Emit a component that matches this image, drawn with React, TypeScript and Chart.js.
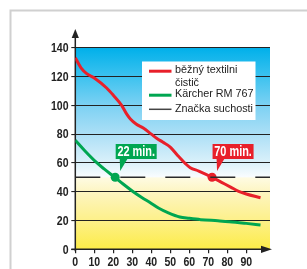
import { useEffect, useRef } from 'react';
import { Chart, registerables } from 'chart.js';
Chart.register(...registerables);

const redX = [0, 3, 6, 10, 16.5, 20, 24.4, 27, 29, 32, 36, 40, 43, 46, 50, 54, 58, 60.5, 65, 72, 77, 82, 86, 90, 97.5];
const redY = [133, 126, 122, 119, 112, 107, 100, 94, 90.5, 87, 84, 80, 77, 74.5, 71, 65, 59.5, 56.7, 54.3, 50, 46.5, 43, 40.3, 38.4, 35.8];
const greenX = [0, 5, 11, 15, 21, 25, 30.5, 35, 39.3, 44, 49, 55, 60, 66, 75, 81, 90, 97.5];
const greenY = [75.8, 68.5, 60.5, 56, 49.8, 45.5, 40, 36, 32.5, 28.5, 25.3, 22.4, 21.5, 20.6, 19.8, 19.2, 18, 16.9];
const xTicks = [0, 10, 20, 30, 40, 50, 60, 70, 80, 90];
const yTicks = [0, 20, 40, 60, 80, 100, 120, 140];
const xMax = 102.5;
const dryLevel = 50;
const markerX = [21, 72];
const markerLabels = ['22 min.', '70 min.'];
const legendLabels = [['běžný textilni', 'čistič'], ['Kärcher RM 767'], ['Značka suchosti']];

const RED = '#e8202a';
const GREEN = '#00a651';
const DARK = '#222222';
const FAMILY = "'Liberation Sans', Arial, sans-serif";

function condensedText(ctx: any, text: string, x: number, y: number, font: string, align: 'left' | 'center' | 'right', sx: number) {
  ctx.save();
  ctx.font = font;
  ctx.textBaseline = 'middle';
  ctx.textAlign = align;
  ctx.translate(x, y);
  ctx.scale(sx, 1);
  ctx.fillText(text, 0, 0);
  ctx.restore();
}

const bgPlugin = {
  id: 'bg',
  beforeDraw(chart: any) {
    const { ctx, chartArea } = chart;
    const { left, top, right, bottom } = chartArea;
    ctx.save();
    ctx.fillStyle = '#ffffff';
    ctx.fillRect(0, 0, chart.width, chart.height);
    ctx.strokeStyle = '#d0d0d0';
    ctx.lineWidth = 2;
    ctx.strokeRect(10.5, 10.5, 400, 400);
    const g = ctx.createLinearGradient(0, top, 0, bottom);
    const s = (v: number) => (140 - v) / 140;
    g.addColorStop(s(140), '#00b0ea');
    g.addColorStop(s(120), '#3cc2ef');
    g.addColorStop(s(100), '#7cd1f3');
    g.addColorStop(s(80), '#acdff6');
    g.addColorStop(s(60), '#dbf1fa');
    g.addColorStop(s(50.5), '#f8fcfe');
    g.addColorStop(s(49.5), '#fefbe2');
    g.addColorStop(s(40), '#fdf5c2');
    g.addColorStop(s(20), '#fdf089');
    g.addColorStop(s(0), '#fcec48');
    ctx.fillStyle = g;
    ctx.fillRect(left, top, right - left, bottom - top);
    ctx.restore();
  },
  beforeDatasetsDraw(chart: any) {
    const { ctx } = chart;
    const x = chart.scales.x;
    const y = chart.scales.y;
    const x0 = x.getPixelForValue(0);
    const y0 = y.getPixelForValue(0);
    ctx.save();
    ctx.strokeStyle = DARK;
    ctx.fillStyle = DARK;
    ctx.lineWidth = 1.5;
    ctx.beginPath();
    ctx.moveTo(x0, y0 + 2);
    ctx.lineTo(x0, 34);
    ctx.moveTo(x0 - 4, y0);
    ctx.lineTo(265, y0);
    ctx.stroke();
    ctx.beginPath();
    ctx.moveTo(x0, 29);
    ctx.lineTo(x0 - 3.6, 38);
    ctx.lineTo(x0 + 3.6, 38);
    ctx.closePath();
    ctx.fill();
    ctx.beginPath();
    ctx.moveTo(272, y0);
    ctx.lineTo(261, y0 - 3.6);
    ctx.lineTo(261, y0 + 3.6);
    ctx.closePath();
    ctx.fill();
    // tick labels
    const tickFont = `bold 13.5px ${FAMILY}`;
    y.ticks.forEach((t: any) => {
      condensedText(ctx, String(t.value), 68.5, y.getPixelForValue(t.value) + 0.5, tickFont, 'right', 0.78);
    });
    x.ticks.forEach((t: any) => {
      condensedText(ctx, String(t.value), x.getPixelForValue(t.value), 262, tickFont, 'center', 0.78);
    });
    ctx.restore();
  },
  afterDatasetsDraw(chart: any) {
    const { ctx } = chart;
    const x = chart.scales.x;
    const y = chart.scales.y;
    ctx.save();
    // legend
    ctx.fillStyle = '#ffffff';
    ctx.fillRect(142, 61.5, 113.5, 58.5);
    const rows = [
      { color: RED, w: 3, y: 71.2, lines: legendLabels[0] },
      { color: GREEN, w: 3, y: 95.2, lines: legendLabels[1] },
      { color: '#444444', w: 1.5, y: 109.3, lines: legendLabels[2] },
    ];
    ctx.fillStyle = '#222222';
    rows.forEach((r) => {
      ctx.strokeStyle = r.color;
      ctx.lineWidth = r.w;
      ctx.beginPath();
      ctx.moveTo(149, r.y);
      ctx.lineTo(171.5, r.y);
      ctx.stroke();
      r.lines.forEach((t, i) => condensedText(ctx, t, 175, r.y - 0.7 + i * 12.5, `10.8px ${FAMILY}`, 'left', 1));
    });
    // marker labels
    const colors = [GREEN, RED];
    markerX.forEach((mx, i) => {
      const px = x.getPixelForValue(mx);
      const py = y.getPixelForValue(dryLevel);
      const bl = px + 0.5;
      const bt = py - 33.3;
      ctx.fillStyle = colors[i];
      ctx.fillRect(bl, bt, 41, 15);
      ctx.beginPath();
      ctx.moveTo(bl + 4, bt + 14.5);
      ctx.lineTo(bl + 12, bt + 14.5);
      ctx.lineTo(bl + 4.5, bt + 27);
      ctx.closePath();
      ctx.fill();
      ctx.fillStyle = '#ffffff';
      condensedText(ctx, markerLabels[i], bl + 20.5, bt + 8, `bold 14px ${FAMILY}`, 'center', 0.78);
    });
    ctx.restore();
  },
};

export default function App() {
  const ref = useRef<HTMLCanvasElement>(null);
  useEffect(() => {
    const canvas = ref.current!;
    const chart = new Chart(canvas, {
      type: 'scatter',
      data: {
        datasets: [
          {
            label: 'dry',
            data: [{ x: 0, y: dryLevel }, { x: xMax, y: dryLevel }],
            showLine: true,
            borderColor: '#2a2a2a',
            borderWidth: 1.4,
            borderDash: [25, 20],
            pointRadius: 0,
          },
          {
            label: legendLabels[0].join(' '),
            data: redX.map((v, i) => ({ x: v, y: redY[i] })),
            showLine: true,
            borderColor: RED,
            borderWidth: 3,
            pointRadius: 0,
            cubicInterpolationMode: 'monotone',
          },
          {
            label: legendLabels[1][0],
            data: greenX.map((v, i) => ({ x: v, y: greenY[i] })),
            showLine: true,
            borderColor: GREEN,
            borderWidth: 3,
            pointRadius: 0,
            cubicInterpolationMode: 'monotone',
          },
          {
            label: 'm1',
            data: [{ x: markerX[0], y: dryLevel }],
            pointRadius: 4.5,
            pointBackgroundColor: GREEN,
            pointBorderWidth: 0,
          },
          {
            label: 'm2',
            data: [{ x: markerX[1], y: dryLevel }],
            pointRadius: 4.5,
            pointBackgroundColor: RED,
            pointBorderWidth: 0,
          },
        ],
      } as any,
      options: {
        animation: false,
        responsive: false,
        events: [],
        layout: { padding: { left: 0, top: 47.7, right: 37, bottom: 0 } },
        plugins: { legend: { display: false }, tooltip: { enabled: false } },
        scales: {
          x: {
            type: 'linear',
            min: 0,
            max: xMax,
            afterBuildTicks: (s: any) => { s.ticks = xTicks.map((v) => ({ value: v })); },
            afterFit: (s: any) => { s.height = 19.7; },
            border: { display: false },
            grid: { drawOnChartArea: false, drawTicks: true, tickLength: 4, color: DARK, lineWidth: 1.2 },
            ticks: { display: false },
          },
          y: {
            type: 'linear',
            min: 0,
            max: 140,
            afterBuildTicks: (s: any) => { s.ticks = yTicks.map((v) => ({ value: v })); },
            afterFit: (s: any) => { s.width = 75.3; },
            border: { display: false },
            grid: { color: DARK, lineWidth: 1.1, tickLength: 4 },
            ticks: { display: false },
          },
        },
      } as any,
      plugins: [bgPlugin],
    });
    return () => chart.destroy();
  }, []);
  return (
    <div style={{ position: 'fixed', left: 0, top: 0, width: 307, height: 269 }}>
      <canvas ref={ref} width={307} height={269} />
    </div>
  );
}
